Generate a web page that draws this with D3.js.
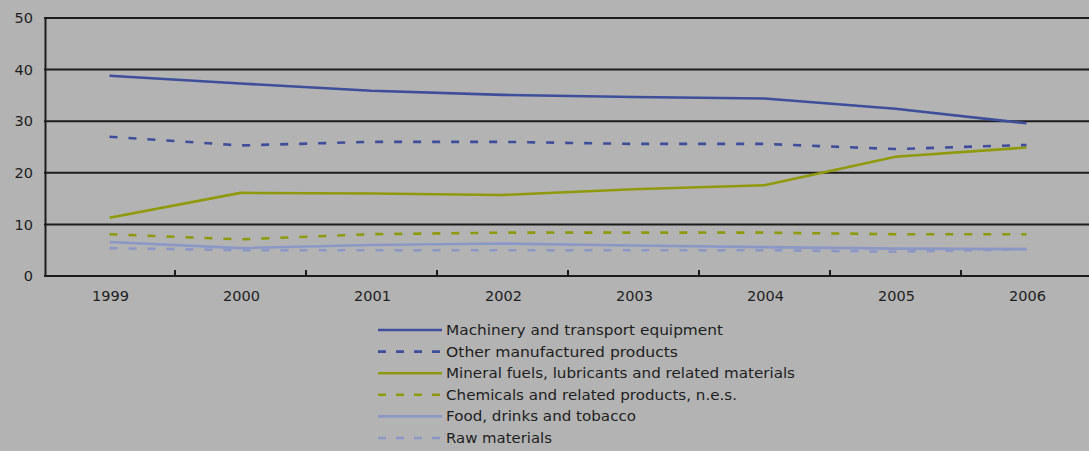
<!DOCTYPE html>
<html>
<head>
<meta charset="utf-8">
<script src="https://cdn.jsdelivr.net/npm/d3@7"></script>
<style>
  html, body { margin: 0; padding: 0; background: #b3b3b3; }
  svg { display: block; }
  text { font-family: "DejaVu Sans", Verdana, sans-serif; fill: #1e1e1e; }
</style>
</head>
<body>
<svg id="chart" width="1089" height="451"></svg>
<script>
// Years on the category axis
const years = ["1999", "2000", "2001", "2002", "2003", "2004", "2005", "2006"];

// Share of exports by product group (%)
const machinery = [38.8, 37.3, 35.9, 35.1, 34.7, 34.4, 32.4, 29.6];
const otherManufactured = [27.0, 25.3, 26.0, 26.0, 25.6, 25.6, 24.6, 25.4];
const mineralFuels = [11.3, 16.1, 16.0, 15.7, 16.8, 17.6, 23.1, 24.9];
const chemicals = [8.1, 7.1, 8.1, 8.4, 8.4, 8.4, 8.1, 8.1];
const food = [6.6, 5.4, 6.0, 6.3, 5.9, 5.6, 5.3, 5.2];
const rawMaterials = [5.4, 5.0, 5.0, 5.0, 5.0, 5.0, 4.7, 5.2];

const seriesNames = [
  "Machinery and transport equipment",
  "Other manufactured products",
  "Mineral fuels, lubricants and related materials",
  "Chemicals and related products, n.e.s.",
  "Food, drinks and tobacco",
  "Raw materials"
];
const seriesValues = [machinery, otherManufactured, mineralFuels, chemicals, food, rawMaterials];
const seriesColors = ["#3f4d9a", "#3f4d9a", "#8e9a0c", "#8e9a0c", "#8d97c6", "#8d97c6"];
const seriesDashed = [false, true, false, true, false, true];

const yTicks = [0, 10, 20, 30, 40, 50];

const svg = d3.select("#chart");
const plot = { left: 44, right: 1092, top: 18, bottom: 276 };

const x = d3.scaleBand().domain(years).range([plot.left, plot.right]);
const y = d3.scaleLinear().domain([0, 50]).range([plot.bottom, plot.top]);

// Horizontal gridlines
svg.append("g")
  .selectAll("line")
  .data(yTicks)
  .join("line")
  .attr("x1", plot.left)
  .attr("x2", plot.right)
  .attr("y1", d => y(d))
  .attr("y2", d => y(d))
  .attr("stroke", "#1c1c1c")
  .attr("stroke-width", 2);

// Value axis
const yAxis = svg.append("g")
  .attr("transform", `translate(${plot.left + 1},0)`)
  .call(d3.axisLeft(y).tickValues(yTicks).tickSize(0).tickPadding(12));
yAxis.select(".domain").attr("stroke", "#1c1c1c").attr("stroke-width", 2);
yAxis.selectAll("text").style("font-size", "14.5px").attr("fill", "#1e1e1e");

// Category axis with ticks between the years
const boundaries = years.slice(1).map(d => x(d));
svg.append("g")
  .selectAll("line")
  .data(boundaries)
  .join("line")
  .attr("x1", d => d)
  .attr("x2", d => d)
  .attr("y1", plot.bottom - 6)
  .attr("y2", plot.bottom)
  .attr("stroke", "#1c1c1c")
  .attr("stroke-width", 2);

svg.append("g")
  .selectAll("text")
  .data(years)
  .join("text")
  .attr("x", d => x(d) + x.bandwidth() / 2 + 1)
  .attr("y", 301)
  .attr("text-anchor", "middle")
  .style("font-size", "14.5px")
  .text(d => d);

// Series lines
const line = d3.line()
  .x((d, i) => x(years[i]) + x.bandwidth() / 2)
  .y(d => y(d));

const order = [5, 4, 3, 2, 1, 0];
svg.append("g")
  .selectAll("path")
  .data(order)
  .join("path")
  .attr("d", k => line(seriesValues[k]))
  .attr("fill", "none")
  .attr("stroke", k => seriesColors[k])
  .attr("stroke-width", 2.6)
  .attr("stroke-dasharray", k => seriesDashed[k] ? "8,11" : null);

// Legend
const legendWidths = [277, 232, 349, 291, 190, 106];
const legend = svg.append("g")
  .selectAll("g")
  .data(seriesNames)
  .join("g")
  .attr("transform", (d, i) => `translate(378,${330 + i * 21.6})`);

legend.append("line")
  .attr("x1", 0)
  .attr("x2", 64)
  .attr("stroke", (d, i) => seriesColors[i])
  .attr("stroke-width", 2.6)
  .attr("stroke-dasharray", (d, i) => seriesDashed[i] ? "8,10" : null);

legend.append("text")
  .attr("x", 68)
  .attr("y", 5)
  .style("font-size", "14px")
  .attr("textLength", (d, i) => legendWidths[i])
  .attr("lengthAdjust", "spacingAndGlyphs")
  .text(d => d);
</script>
</body>
</html>
